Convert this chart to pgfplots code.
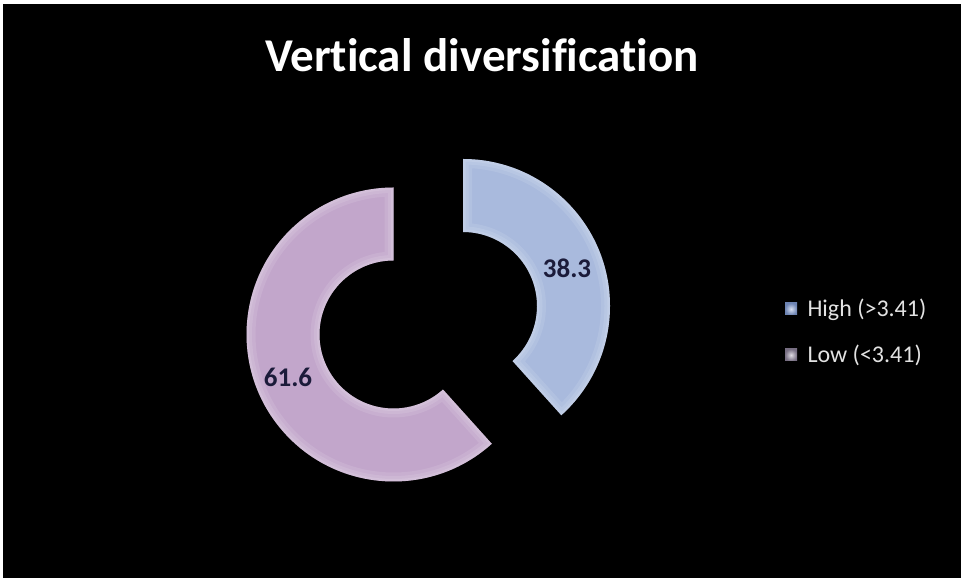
\documentclass[border=0pt]{standalone}
\usepackage{pgfplots}
\pgfplotsset{compat=1.18}
\usepackage{pgfplotstable}
\usepackage{fontspec}
\setmainfont[Ligatures=NoCommon]{Carlito}
\usetikzlibrary{calc}

\definecolor{highcol}{HTML}{A9BADD}
\definecolor{lowcol}{HTML}{C2A6CB}
\definecolor{labcol}{HTML}{1B1B3A}
\definecolor{legtext}{HTML}{E2E2E2}
\definecolor{highmark}{HTML}{7F9AD2}
\definecolor{lowmark}{HTML}{958AA3}

% shares of the two groups (percent)
\pgfplotstableread{
label value
High 38.3
Low  61.6
}\slices

% annular sector: centre (#1,#2) in axis units, from angle #3 to angle #4
\newcommand\ringsector[4]{%
  (axis cs:#1,#2) ++(#3:147bp)
  arc[start angle=#3, end angle=#4, radius=147bp]
  -- ($(axis cs:#1,#2)+(#4:74bp)$)
  arc[start angle=#4, end angle=#3, radius=74bp] -- cycle}

% filled sector with a soft light rim along its edges
\newcommand\drawsector[5]{%
  \fill[#5] \ringsector{#1}{#2}{#3}{#4};
  \begin{scope}
    \clip \ringsector{#1}{#2}{#3}{#4};
    \draw[white, opacity=0.10, line width=18bp] \ringsector{#1}{#2}{#3}{#4};
    \draw[white, opacity=0.10, line width=11bp] \ringsector{#1}{#2}{#3}{#4};
    \draw[white, opacity=0.12, line width=5bp] \ringsector{#1}{#2}{#3}{#4};
  \end{scope}}

\begin{document}
\begin{tikzpicture}
\pgfplotstablegetelem{0}{value}\of\slices \let\vhigh\pgfplotsretval
\pgfplotstablegetelem{1}{value}\of\slices \let\vlow\pgfplotsretval
\pgfmathsetmacro\total{\vhigh+\vlow}
\pgfmathsetmacro\cut{90-360*\vhigh/\total}
\begin{axis}[
  width=964bp, height=581bp, scale only axis,
  xmin=0, xmax=964, ymin=0, ymax=581,
  hide axis, clip=false]
  % frame and dark background
  \fill[white] (axis cs:0,0) rectangle (axis cs:964,581);
  \fill[black] (axis cs:3,3) rectangle (axis cs:961,577);

  % title
  \node[anchor=base, text=white, font=\fontsize{47bp}{56bp}\selectfont\bfseries]
    at (axis cs:482,509) {Vertical diversification};

  % slices (High pulled out along its bisector)
  \drawsector{463}{275}{90}{\cut}{highcol}
  \drawsector{393.5}{246.5}{\cut}{-270}{lowcol}

  % value labels
  \node[text=labcol, font=\fontsize{27bp}{32bp}\selectfont\bfseries]
    at (axis cs:567,313) {\pgfmathprintnumber[fixed,precision=1,assume math mode=true]{\vhigh}};
  \node[text=labcol, font=\fontsize{27bp}{32bp}\selectfont\bfseries]
    at (axis cs:288,204) {\pgfmathprintnumber[fixed,precision=1,assume math mode=true]{\vlow}};

  % legend
  \shade[inner color=highmark!30!white, outer color=highmark!85!black]
    (axis cs:785,266) rectangle (axis cs:797,278);
  \node[anchor=base west, text=legtext, font=\fontsize{24bp}{29bp}\selectfont]
    at (axis cs:804,264) {High (>3.41)};
  \shade[inner color=lowmark!30!white, outer color=lowmark!80!black]
    (axis cs:785,220) rectangle (axis cs:797,232);
  \node[anchor=base west, text=legtext, font=\fontsize{24bp}{29bp}\selectfont]
    at (axis cs:804,218) {Low (<3.41)};
\end{axis}
\end{tikzpicture}
\end{document}
